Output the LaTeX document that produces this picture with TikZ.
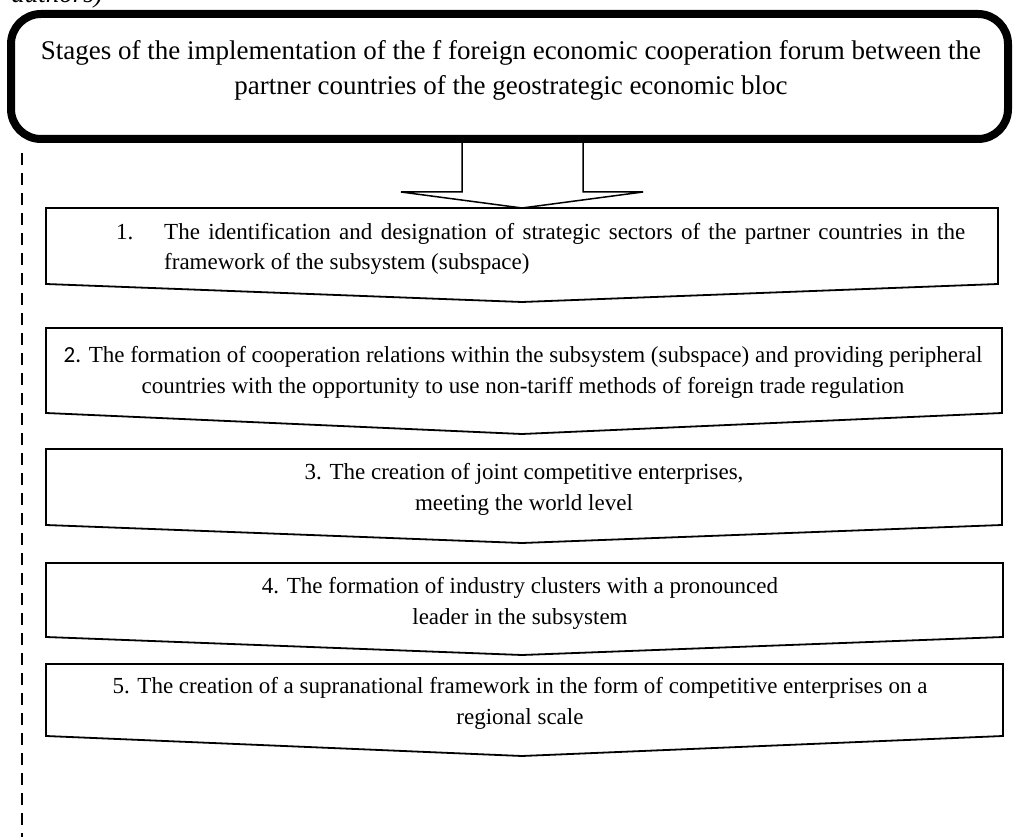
\documentclass[tikz,border=0pt]{standalone}
\usepackage{fontspec}
\setmainfont{Liberation Serif}
\newfontfamily\calfont{Carlito}
\begin{document}
\begin{tikzpicture}[x=1pt,y=-1pt,
  stagebox/.style={draw=black, line width=1.8pt, fill=white, line join=miter},
  stagetxt/.style={font=\fontsize{23}{31}\selectfont, align=center, inner sep=0pt, anchor=base},
  toptxt/.style={font=\fontsize{27}{35}\selectfont, align=center, inner sep=0pt, anchor=base},
  blockarrow/.style={draw=black, line width=1.5pt, fill=white, line join=miter}]
\useasboundingbox (0,0) rectangle (1021,837);
\begin{scope}
  \clip (0,0) rectangle (1021,837);
  \node[anchor=base east, inner sep=0pt, font=\itshape\fontsize{27}{30}\selectfont] (src) at (103,3) {authors)};
\end{scope}
% dashed guide line
\coordinate (dtop) at (22,153);
\coordinate (dbot) at (22,837);
\draw[line width=1.5pt, dash pattern=on 12pt off 8pt] (dtop) -- (dbot);
% block arrow
\draw[blockarrow] (462,140) -- (462,192) -- (401,192) -- (522,208) -- (643,192) -- (583,192) -- (583,140);
% top rounded box
\draw[line width=8pt, rounded corners=30pt] (11,14) rectangle (1008,139);
\node[toptxt] (title) at (511,95) {Stages of the implementation of the f foreign economic cooperation forum between the\\partner countries of the geostrategic economic bloc};
% stage boxes
\draw[stagebox] (46,208) -- (998,208) -- (998,284) -- (522,302) -- (46,284) -- cycle;
\node[anchor=base west, inner sep=0pt, font=\fontsize{23}{31}\selectfont] (s1num) at (116,240) {1.};
\node[anchor=base west, inner sep=0pt, font=\fontsize{23}{30}\selectfont, text width=801pt, align=justify] (s1) at (164,240) {The identification and designation of strategic sectors of the partner countries in the framework of the subsystem (subspace)};

\draw[stagebox] (46,328) -- (1002,328) -- (1002,413) -- (522,434) -- (46,413) -- cycle;
\node[stagetxt] (s2) at (523,393) {{\calfont 2.} The formation of cooperation relations within the subsystem (subspace) and providing peripheral\\countries with the opportunity to use non-tariff methods of foreign trade regulation};

\draw[stagebox] (46,449) -- (1002,449) -- (1002,525) -- (522,543) -- (46,525) -- cycle;
\node[stagetxt] (s3) at (524,510) {3. The creation of joint competitive enterprises,\\meeting the world level};

\draw[stagebox] (46,563) -- (1003,563) -- (1003,637) -- (522,655) -- (46,637) -- cycle;
\node[stagetxt] (s4) at (520,624) {4. The formation of industry clusters with a pronounced\\leader in the subsystem};

\draw[stagebox] (46,664) -- (1003,664) -- (1003,736) -- (522,756) -- (46,736) -- cycle;
\node[stagetxt] (s5) at (520,724) {5. The creation of a supranational framework in the form of competitive enterprises on a\\regional scale};
\end{tikzpicture}
\end{document}
